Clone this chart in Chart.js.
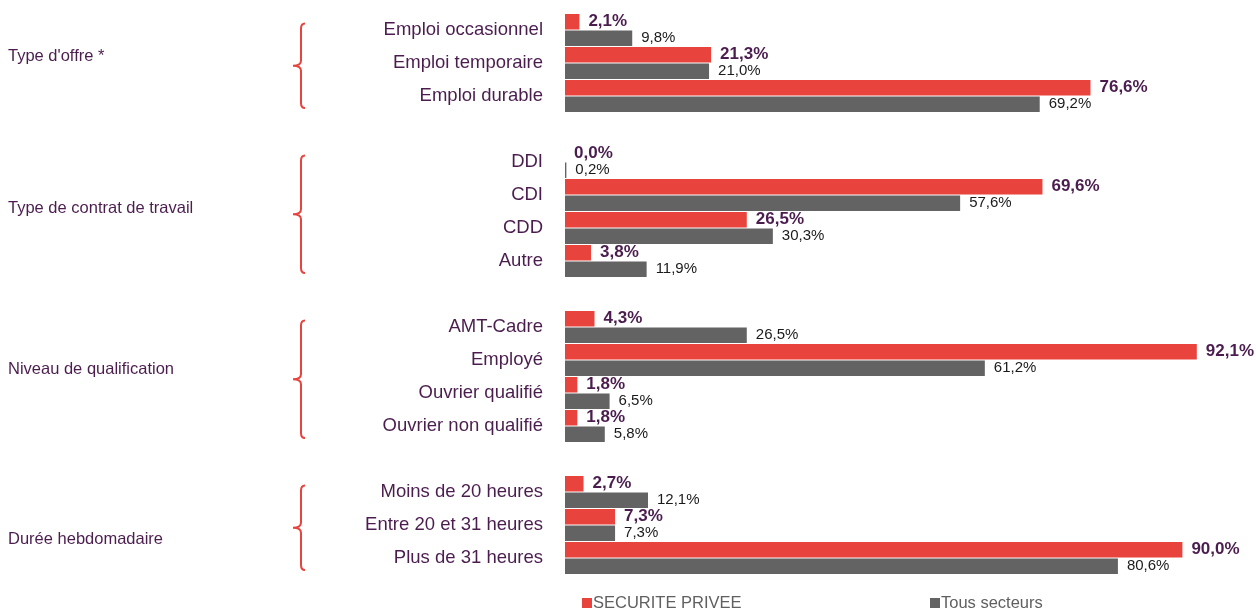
<!DOCTYPE html>
<html>
<head>
<meta charset="utf-8">
<script src="https://cdn.jsdelivr.net/npm/chart.js"></script>
<style>
  html, body { margin: 0; padding: 0; background: #fff; }
  #wrap { width: 1256px; height: 611px; position: relative; }
</style>
</head>
<body>
<div id="wrap"><canvas id="chart"></canvas></div>
<script>
// Catégories (les '' sont des lignes vides entre les groupes)
const categories = [
  'Emploi occasionnel', 'Emploi temporaire', 'Emploi durable', '',
  'DDI', 'CDI', 'CDD', 'Autre', '',
  'AMT-Cadre', 'Employé', 'Ouvrier qualifié', 'Ouvrier non qualifié', '',
  'Moins de 20 heures', 'Entre 20 et 31 heures', 'Plus de 31 heures'
];
const securitePrivee = [2.1, 21.3, 76.6, null, 0.0, 69.6, 26.5, 3.8, null, 4.3, 92.1, 1.8, 1.8, null, 2.7, 7.3, 90.0];
const tousSecteurs   = [9.8, 21.0, 69.2, null, 0.2, 57.6, 30.3, 11.9, null, 26.5, 61.2, 6.5, 5.8, null, 12.1, 7.3, 80.6];

// Groupes : libellé, première et dernière catégorie
const groupLabels = ["Type d'offre *", 'Type de contrat de travail', 'Niveau de qualification', 'Durée hebdomadaire'];
const groupFirst = [0, 4, 9, 14];
const groupLast = [2, 7, 12, 16];

const RED = '#e8433d';
const GREY = '#636363';
const PURPLE = '#4b1d4f';
const FONT = "'Liberation Sans', Arial, sans-serif";

const fmt = v => v.toFixed(1).replace('.', ',') + '%';

// Étiquettes de valeurs au bout des barres
const valueLabels = {
  id: 'valueLabels',
  afterDatasetsDraw(chart) {
    const ctx = chart.ctx;
    ctx.save();
    ctx.textBaseline = 'middle';
    ctx.textAlign = 'left';
    chart.data.datasets.forEach((ds, di) => {
      const meta = chart.getDatasetMeta(di);
      meta.data.forEach((bar, i) => {
        const v = ds.data[i];
        if (v === null) return;
        if (di === 0) {
          ctx.font = 'bold 17px ' + FONT;
          ctx.fillStyle = PURPLE;
        } else {
          ctx.font = '15px ' + FONT;
          ctx.fillStyle = '#1a1a1a';
        }
        ctx.fillText(fmt(v), bar.x + 9, bar.y);
      });
    });
    ctx.restore();
  }
};

// Accolades et libellés de groupe à gauche
const labelShift = [-4, -1, -5, 17]; // petits décalages comme sur l'original
const groupBraces = {
  id: 'groupBraces',
  afterDraw(chart) {
    const ctx = chart.ctx;
    const y = chart.scales.y;
    const pitch = y.getPixelForValue(1) - y.getPixelForValue(0);
    ctx.save();
    groupLabels.forEach((label, g) => {
      const top = y.getPixelForValue(groupFirst[g]) - 0.2 * pitch;
      const bottom = y.getPixelForValue(groupLast[g]) + 0.36 * pitch;
      const tip = (top + bottom) / 2;
      const xv = 301, tipX = 293;
      ctx.strokeStyle = RED;
      ctx.lineWidth = 2;
      ctx.beginPath();
      ctx.moveTo(xv + 4, top);
      ctx.quadraticCurveTo(xv, top, xv, top + 5);
      ctx.lineTo(xv, tip - 5);
      ctx.quadraticCurveTo(xv, tip, tipX, tip);
      ctx.quadraticCurveTo(xv, tip, xv, tip + 5);
      ctx.lineTo(xv, bottom - 5);
      ctx.quadraticCurveTo(xv, bottom, xv + 4, bottom);
      ctx.stroke();

      ctx.font = '16.5px ' + FONT;
      ctx.fillStyle = PURPLE;
      ctx.textAlign = 'left';
      ctx.textBaseline = 'middle';
      ctx.fillText(label, 8, tip - 5 + labelShift[g]);
    });
    ctx.restore();
  }
};

// Légende en bas
const bottomLegend = {
  id: 'bottomLegend',
  afterDraw(chart) {
    const ctx = chart.ctx;
    const xs = [582, 930];
    ctx.save();
    ctx.font = '16.5px ' + FONT;
    ctx.textBaseline = 'middle';
    chart.data.datasets.forEach((ds, i) => {
      ctx.fillStyle = ds.backgroundColor;
      ctx.fillRect(xs[i], 598, 10, 10);
      ctx.fillStyle = '#606060';
      ctx.fillText(ds.label, xs[i] + 11, 603);
    });
    ctx.restore();
  }
};

new Chart(document.getElementById('chart'), {
  type: 'bar',
  data: {
    labels: categories,
    datasets: [
      { label: 'SECURITE PRIVEE', data: securitePrivee, backgroundColor: RED },
      { label: 'Tous secteurs', data: tousSecteurs, backgroundColor: GREY }
    ]
  },
  options: {
    indexAxis: 'y',
    responsive: true,
    maintainAspectRatio: false,
    animation: false,
    layout: { padding: { top: 13.5, bottom: 36.5, right: 5, left: 0 } },
    datasets: {
      bar: { barPercentage: 0.93, categoryPercentage: 1.0 }
    },
    scales: {
      x: { display: false, min: 0, max: 100 },
      y: {
        grid: { display: false, drawTicks: false },
        border: { display: false },
        ticks: {
          padding: 22,
          color: PURPLE,
          font: { family: FONT, size: 18.5 }
        },
        afterFit(scale) {
          scale.width = 565;
          scale.paddingTop = 0;
          scale.paddingBottom = 0;
        }
      }
    },
    plugins: {
      legend: { display: false },
      tooltip: { enabled: false }
    }
  },
  plugins: [valueLabels, groupBraces, bottomLegend]
});
</script>
</body>
</html>
